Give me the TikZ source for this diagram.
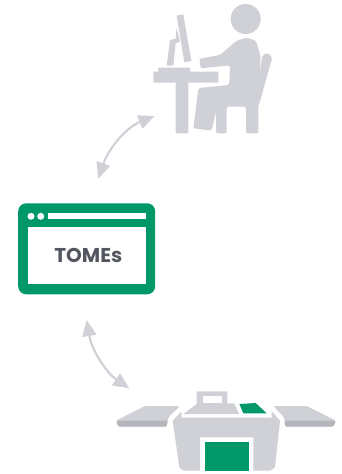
\documentclass[tikz,border=0pt]{standalone}
\usepackage{fontspec}
\setsansfont{Poppins}
\usetikzlibrary{arrows.meta}
\definecolor{icongray}{RGB}{207,209,215}
\definecolor{traygray}{RGB}{180,182,187}
\definecolor{tomesgreen}{RGB}{0,152,105}
\definecolor{labelgray}{RGB}{84,86,95}
\tikzset{link/.style = {draw=icongray, line width=2.2, {Triangle[length=16,width=14]}-{Triangle[length=16,width=14]}}}
\tikzset{zoomed/.style = {x=0.33333pt, y=-0.33333pt}}
\begin{document}
\begin{tikzpicture}[x=1pt,y=-1pt]
    \useasboundingbox (0,0) rectangle (341,474);
    % person at the desk
    \begin{scope}[shift={(130,0)},zoomed]
        \fill [icongray] (347,57) circle [radius=45];
        \fill [icongray] (140,47)--(160,43)--(184,183)--(163,187)--cycle;
        \fill [icongray] (140,82)--(150,125)--(137,130)--(130,197)--(110,197)--(120,120)--(137,116)--cycle;
        \fill [icongray] (85,203)--(180,203)--(180,215)--(265,215)--(265,248)--(175,248)--(175,400)--(137,400)--(137,248)--(70,248)--(70,215)--(85,215)--cycle;
        \fill [icongray, rounded corners=2] (208,176)--(270,165)--(320,122)--(350,113)--(378,122)--(392,170)--(385,320)--(385,400)--(348,400)--(348,320)--(290,320)--(290,400)--(258,400)--(258,335)--(245,392)--(190,385)--(205,264)--(298,255)--(300,196)--(212,205)--cycle;
        \fill [icongray, rounded corners=2] (397,165)--(412,158)--(427,172)--(385,322)--(385,250)--cycle;
    \end{scope}
    % window
    \node (tomes) [fill=tomesgreen, rounded corners=8, inner sep=0, minimum width=137, minimum height=91] at (86.7,248.8) {};
    \fill [white] (28.3,227.3) rectangle (145.7,284.3);
    \fill [white] (47.7,213.3) rectangle (145.7,219);
    \fill [white] (31,216.3) circle [radius=3.5] (40.7,216.3) circle [radius=3.5];
    \node (label) [text=labelgray, font=\sffamily\bfseries\fontsize{20}{22}\selectfont] at (88.3,255.5) {TOMEs};
    % toolbox
    \begin{scope}[shift={(100,374)},zoomed]
        \fill [icongray, rounded corners=1.5] (48,140)--(135,96)--(240,96)--(205,130)--(200,158)--(55,158)--cycle;
        \fill [traygray, rounded corners=1.5] (48,140)--(203,140)--(200,158)--(55,158)--cycle;
        \fill [icongray, rounded corners=1.5] (708,140)--(620,96)--(520,96)--(552,130)--(556,158)--(700,158)--cycle;
        \fill [traygray, rounded corners=1.5] (708,140)--(553,140)--(556,158)--(700,158)--cycle;
        \fill [icongray] (290,90)--(290,52)--(382,52)--(382,88)--(403,88)--(417,120)--(250,120)--cycle;
        \fill [white] (308,67) rectangle (365,88);
        \fill [tomesgreen] (418,90)--(467,87)--(500,118)--(430,118)--cycle;
        \fill [icongray] (245,112)--(245,131)--(515,131)--(515,112)--(540,140)--(525,280)--(510,290)--(460,290)--(460,190)--(300,190)--(300,290)--(250,290)--(238,280)--(218,140)--cycle;
        \fill [tomesgreen] (315,203) rectangle (447,290);
    \end{scope}
    % arrows
    \coordinate (deskEnd) at (154.5,116);
    \coordinate (tomesTop) at (98.3,178.7);
    \coordinate (tomesBottom) at (86.7,320);
    \coordinate (boxEnd) at (129.3,388.3);
    \draw [link] (deskEnd) .. controls (125,128) and (108,150) .. (tomesTop);
    \draw [link] (tomesBottom) .. controls (92,352) and (108,374) .. (boxEnd);
\end{tikzpicture}
\end{document}
